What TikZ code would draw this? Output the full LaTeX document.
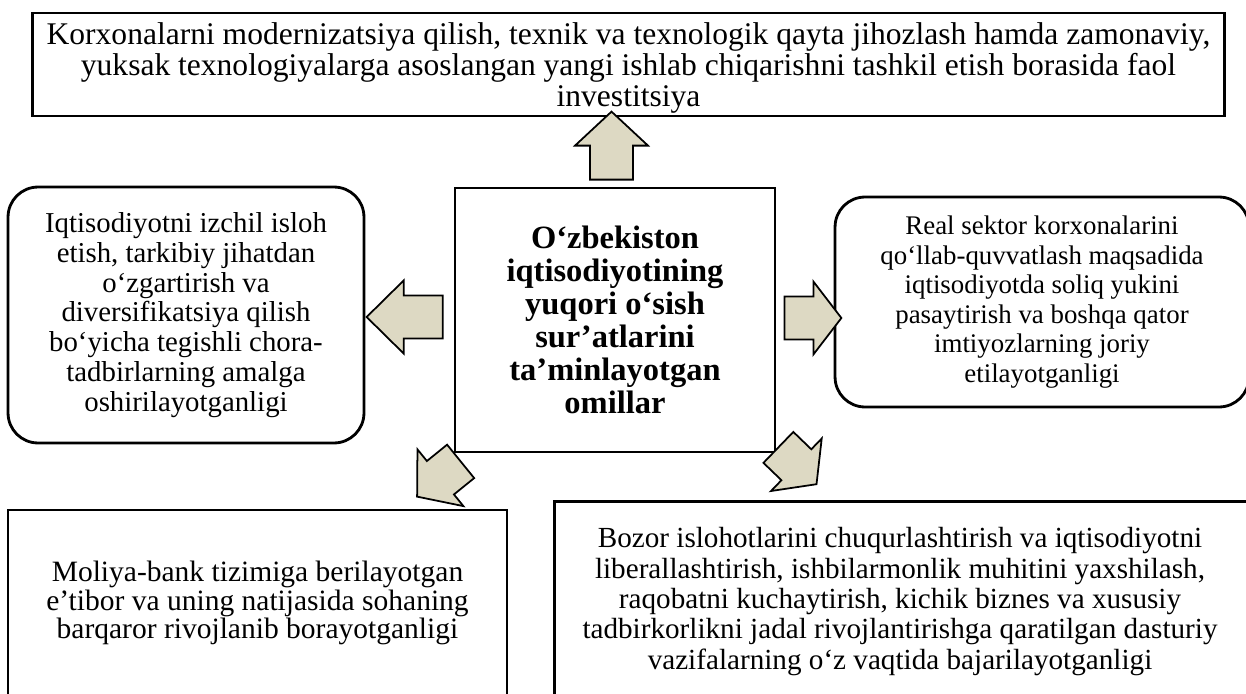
\documentclass[tikz,border=0pt]{standalone}
\usepackage{fontspec}
\setmainfont{Liberation Serif}
\usepackage{tikz}
\definecolor{arrowbeige}{RGB}{221,217,195}
\tikzset{
    box/.style={draw, line width=1.6pt, align=center, inner sep=0pt},
    roundbox/.style={box, rounded corners=0.6cm},
    titlebox/.style={box, font=\fontsize{18.5}{18.7}\selectfont\bfseries},
    arrowfill/.style={fill=arrowbeige, draw=black, line width=1pt}
}
\newcommand{\fatarrow}[4]{
    % block arrow starting at #1, turned by #2 degrees
    % #3 is the whole length, #4 the length of the head
    \begin{scope}[shift={#1}, rotate=#2]
        \filldraw[arrowfill] (0,-21.5) -- ({#3-#4},-21.5) -- ({#3-#4},-36.5)
            -- (#3,0) -- ({#3-#4},36.5) -- ({#3-#4},21.5) -- (0,21.5) -- cycle;
    \end{scope}
}

\begin{document}
\begin{tikzpicture}[x=0.02cm, y=-0.02cm]
    \useasboundingbox (0,0) rectangle (1246,693);
    \begin{scope}
        \clip (0,0) rectangle (1246,693);

        % Top box
        \node[box, minimum width=23.86cm, minimum height=2.06cm, text depth=0pt,
              font=\fontsize{17.95}{17.7}\selectfont] (invest) at (628.5,64.5)
            {Korxonalarni modernizatsiya qilish, texnik va texnologik qayta jihozlash hamda zamonaviy,\\
             yuksak texnologiyalarga asoslangan yangi ishlab chiqarishni tashkil etish borasida faol\\
             investitsiya};

        % Middle row
        \node[titlebox, minimum width=6.4cm, minimum height=5.28cm] (omillar) at (615,320)
            {O‘zbekiston\\ iqtisodiyotining\\ yuqori o‘sish\\ sur’atlarini\\ ta’minlayotgan\\ omillar};
        \node[roundbox, minimum width=7.12cm, minimum height=5.12cm,
              font=\fontsize{16.4}{17}\selectfont] (islohot) at (186,315)
            {Iqtisodiyotni izchil isloh\\ etish, tarkibiy jihatdan\\ o‘zgartirish va\\
             diversifikatsiya qilish\\ bo‘yicha tegishli chora-\\ tadbirlarning amalga\\ oshirilayotganligi};
        \node[roundbox, minimum width=8.28cm, minimum height=4.2cm,
              font=\fontsize{15.3}{16.8}\selectfont] (soliq) at (1042,302)
            {Real sektor korxonalarini\\ qo‘llab-quvvatlash maqsadida\\ iqtisodiyotda soliq yukini\\
             pasaytirish va boshqa qator\\ imtiyozlarning joriy\\ etilayotganligi};

        % Bottom row
        \node[box, minimum width=9.98cm, minimum height=3.72cm,
              font=\fontsize{16.8}{16.2}\selectfont] (bank) at (257.5,603)
            {Moliya-bank tizimiga berilayotgan\\ e’tibor va uning natijasida sohaning\\
             barqaror rivojlanib borayotganligi};
        \node[box, draw=none, minimum width=13.76cm, minimum height=3.94cm,
              font=\fontsize{16.6}{17.3}\selectfont] (bozor) at (900,601.5)
            {Bozor islohotlarini chuqurlashtirish va iqtisodiyotni\\
             liberallashtirish, ishbilarmonlik muhitini yaxshilash,\\
             raqobatni kuchaytirish, kichik biznes va xususiy\\
             tadbirkorlikni jadal rivojlantirishga qaratilgan dasturiy\\
             vazifalarning o‘z vaqtida bajarilayotganligi};
        % its right side runs past the edge
        \draw[line width=1.6pt] (bozor.north west) rectangle ([xshift=0.6cm]bozor.south east);

        % Arrows out of the middle box
        \fatarrow{([xshift=-0.07cm, yshift=0.14cm]omillar.north)}{90}{68}{34}
        \fatarrow{([xshift=-0.22cm, yshift=0.06cm]omillar.west)}{180}{76}{37}
        \fatarrow{([xshift=0.16cm, yshift=0.04cm]omillar.east)}{0}{57}{28}
        \fatarrow{([xshift=0.14cm, yshift=-0.16cm]omillar.south west)}{219}{56}{30}
        \fatarrow{([xshift=0.04cm, yshift=0.12cm]omillar.south east)}{-44}{53}{28}
    \end{scope}
\end{tikzpicture}
\end{document}
